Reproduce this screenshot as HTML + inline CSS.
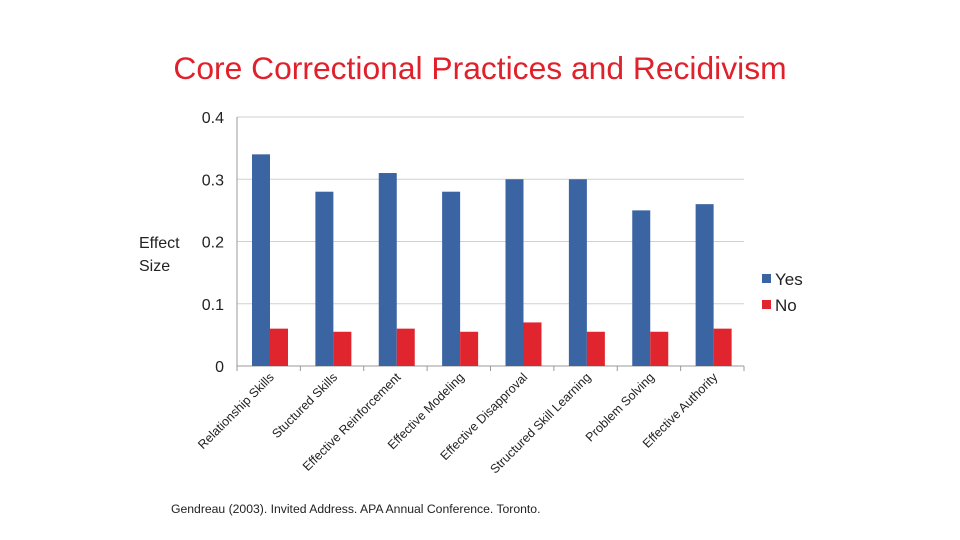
<!DOCTYPE html>
<html><head><meta charset="utf-8"><style>
body{margin:0;background:#fff;}
svg{display:block;font-family:"Liberation Sans",Arial,sans-serif;}
</style></head><body>
<svg id="c" width="960" height="540" viewBox="0 0 960 540">
<text x="480" y="79" text-anchor="middle" font-size="31.8" fill="#e0202a">Core Correctional Practices and Recidivism</text>
<text x="139" y="248" font-size="16" fill="#222">Effect</text>
<text x="139" y="271" font-size="16" fill="#222">Size</text>
<g id="plot"></g>
<rect x="762" y="274" width="9" height="9" fill="#3a64a2"/>
<text x="775" y="285" font-size="17" fill="#222">Yes</text>
<rect x="762" y="300" width="9" height="9" fill="#e0252f"/>
<text x="775" y="311" font-size="17" fill="#222">No</text>
<text x="171" y="513" font-size="12.2" fill="#222">Gendreau (2003). Invited Address.  APA Annual Conference. Toronto.</text>
</svg>
<script>
const categories=["Relationship Skills","Stuctured Skills","Effective Reinforcement","Effective Modeling","Effective Disapproval","Structured Skill Learning","Problem Solving","Effective Authority"];
const yesValues=[0.34,0.28,0.31,0.28,0.30,0.30,0.25,0.26];
const noValues=[0.06,0.055,0.06,0.055,0.07,0.055,0.055,0.06];
const tickValues=[0,0.1,0.2,0.3,0.4];
const tickLabels=["0","0.1","0.2","0.3","0.4"];
const NS="http://www.w3.org/2000/svg";
const g=document.getElementById('plot');
const x0=237,x1=744,yTop=117,yBot=366,yMax=0.4;
const y=v=>yBot-(v/yMax)*(yBot-yTop);
const gw=(x1-x0)/categories.length;
const gx=i=>x0+i*gw;
function mk(t,a){const e=document.createElementNS(NS,t);for(const k in a)e.setAttribute(k,a[k]);g.appendChild(e);return e;}
tickValues.forEach((v,i)=>{
 const l=mk('line',{x1:x0,x2:x1,y1:y(v),y2:y(v),stroke:i===0?'#999':'#d0d0d0','stroke-width':1});
 
 
 const t=mk('text',{x:224,y:y(v)+6,'text-anchor':'end','font-size':16,fill:'#222'});
 t.textContent=tickLabels[i];
 
 
});
const ax=mk('line',{x1:x0,x2:x0,y1:yTop,y2:yBot,stroke:'#999'});


for(let i=0;i<=categories.length;i++){
 const tk=mk('line',{x1:gx(i),x2:gx(i),y1:yBot,y2:yBot+5,stroke:'#999'});
 
 
}
const bw=18;
categories.forEach((c,i)=>{
 const bx=gx(i)+15;
 const r1=mk('rect',{x:bx,y:y(yesValues[i]),width:bw,height:yBot-y(yesValues[i]),fill:'#3a64a2'});
 
 
 const r2=mk('rect',{x:bx+bw,y:y(noValues[i]),width:bw,height:yBot-y(noValues[i]),fill:'#e0252f'});
 
 
 const cx=gx(i)+gw/2+6, cy=yBot+12;
 const t=mk('text',{x:cx,y:cy,'text-anchor':'end','font-size':12.5,fill:'#222',transform:`rotate(-45 ${cx} ${cy})`});
 t.textContent=c;
 
 
});
</script>
</body></html>
